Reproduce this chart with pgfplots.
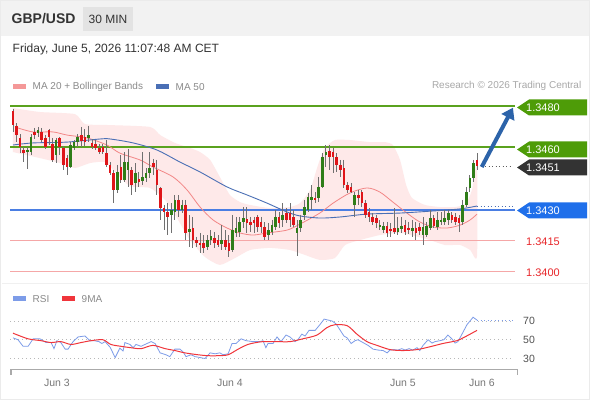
\documentclass[border=0pt]{standalone}
\usepackage{pgfplots}
\pgfplotsset{compat=1.18}
\usepackage{pgfplotstable}
\usetikzlibrary{arrows.meta}
\usepackage{fontspec}
\setmainfont{Liberation Sans}
\definecolor{hdr}{HTML}{F2F2F2}
\definecolor{hbox}{HTML}{E3E3E3}
\definecolor{txt}{HTML}{333333}
\definecolor{leg}{HTML}{8A8A8A}
\definecolor{res}{HTML}{A8A8A8}
\definecolor{lvgreen}{HTML}{5AA21E}
\definecolor{tggreen}{HTML}{4E9C08}
\definecolor{lvblue}{HTML}{4A7EE3}
\definecolor{tgblue}{HTML}{1F6FEA}
\definecolor{tgdark}{HTML}{333333}
\definecolor{lvred}{HTML}{F5A7A7}
\definecolor{txred}{HTML}{E8262A}
\definecolor{cred}{HTML}{DF1519}
\definecolor{cgreen}{HTML}{2F7D18}
\definecolor{wick}{HTML}{707070}
\definecolor{band}{HTML}{FEE9E9}
\definecolor{ma20}{HTML}{F28686}
\definecolor{ma50}{HTML}{4A6FB5}
\definecolor{arr}{HTML}{2C63A9}
\definecolor{rsic}{HTML}{7D9CE8}
\definecolor{mac}{HTML}{F0353B}
\definecolor{gridc}{HTML}{B8B8B8}
\definecolor{axc}{HTML}{AAAAAA}
\definecolor{daytx}{HTML}{777777}
\newcommand{\fs}[1]{\fontsize{#1bp}{#1bp}\selectfont}

% candles: i high low bodytop bodybottom
\pgfplotstableread{
i h l t b
0 1.34786 1.34675 1.34776 1.34708
1 1.34718 1.34626 1.34704 1.34660
2 1.34665 1.34573 1.34646 1.34602
3 1.34602 1.34530 1.34588 1.34573
6 1.34694 1.34641 1.34675 1.34660
8 1.34694 1.34626 1.34675 1.34636
9 1.34660 1.34593 1.34646 1.34602
10 1.34689 1.34612 1.34684 1.34651
11 1.34646 1.34530 1.34617 1.34540
13 1.34651 1.34564 1.34646 1.34602
14 1.34607 1.34492 1.34598 1.34516
15 1.34564 1.34467 1.34549 1.34506
19 1.34699 1.34602 1.34660 1.34631
20 1.34689 1.34607 1.34651 1.34626
22 1.34641 1.34593 1.34622 1.34602
23 1.34636 1.34588 1.34617 1.34598
24 1.34617 1.34569 1.34598 1.34578
25 1.34617 1.34569 1.34602 1.34578
26 1.34636 1.34506 1.34573 1.34516
27 1.34530 1.34467 1.34516 1.34477
28 1.34492 1.34332 1.34477 1.34395
30 1.34564 1.34429 1.34506 1.34443
33 1.34506 1.34371 1.34492 1.34419
35 1.34482 1.34410 1.34448 1.34434
39 1.34545 1.34467 1.34525 1.34506
40 1.34540 1.34371 1.34492 1.34419
41 1.34410 1.34251 1.34405 1.34308
42 1.34323 1.34202 1.34308 1.34289
43 1.34332 1.34178 1.34289 1.34265
46 1.34371 1.34265 1.34347 1.34299
48 1.34347 1.34154 1.34323 1.34188
50 1.34265 1.34116 1.34212 1.34154
51 1.34169 1.34120 1.34154 1.34140
52 1.34188 1.34091 1.34140 1.34130
53 1.34178 1.34091 1.34140 1.34116
56 1.34193 1.34116 1.34164 1.34140
57 1.34178 1.34120 1.34154 1.34130
59 1.34202 1.34106 1.34154 1.34120
60 1.34178 1.34072 1.34140 1.34101
65 1.34313 1.34188 1.34255 1.34236
66 1.34265 1.34193 1.34241 1.34226
67 1.34265 1.34188 1.34251 1.34236
68 1.34275 1.34193 1.34265 1.34217
69 1.34265 1.34188 1.34241 1.34217
70 1.34241 1.34154 1.34217 1.34169
74 1.34289 1.34212 1.34265 1.34236
76 1.34308 1.34236 1.34284 1.34251
77 1.34332 1.34217 1.34284 1.34251
78 1.34299 1.34217 1.34265 1.34226
84 1.34385 1.34332 1.34357 1.34347
88 1.34612 1.34492 1.34583 1.34554
89 1.34598 1.34477 1.34578 1.34554
90 1.34573 1.34482 1.34554 1.34516
91 1.34540 1.34458 1.34516 1.34492
92 1.34540 1.34405 1.34501 1.34419
93 1.34434 1.34381 1.34419 1.34395
94 1.34429 1.34381 1.34410 1.34385
96 1.34395 1.34323 1.34371 1.34357
97 1.34395 1.34313 1.34385 1.34332
98 1.34347 1.34260 1.34332 1.34275
99 1.34308 1.34241 1.34289 1.34265
100 1.34284 1.34226 1.34265 1.34241
101 1.34275 1.34212 1.34260 1.34236
104 1.34241 1.34169 1.34222 1.34188
105 1.34236 1.34169 1.34207 1.34197
106 1.34308 1.34183 1.34212 1.34193
109 1.34251 1.34178 1.34226 1.34193
110 1.34241 1.34183 1.34212 1.34202
112 1.34241 1.34154 1.34212 1.34188
113 1.34236 1.34178 1.34217 1.34197
117 1.34275 1.34212 1.34260 1.34222
122 1.34289 1.34236 1.34275 1.34251
123 1.34284 1.34226 1.34265 1.34241
124 1.34275 1.34193 1.34260 1.34236
129 1.34573 1.34492 1.34540 1.34510
}\redc

\pgfplotstableread{
i h l t b
4 1.34602 1.34496 1.34588 1.34578
5 1.34665 1.34564 1.34651 1.34578
7 1.34699 1.34651 1.34684 1.34670
12 1.34646 1.34525 1.34636 1.34564
16 1.34626 1.34501 1.34612 1.34506
17 1.34636 1.34588 1.34626 1.34598
18 1.34665 1.34602 1.34651 1.34626
21 1.34704 1.34626 1.34660 1.34646
29 1.34516 1.34381 1.34482 1.34395
31 1.34578 1.34434 1.34530 1.34443
32 1.34593 1.34410 1.34530 1.34492
34 1.34525 1.34385 1.34477 1.34429
36 1.34578 1.34419 1.34458 1.34438
37 1.34501 1.34434 1.34477 1.34453
38 1.34578 1.34453 1.34501 1.34477
44 1.34332 1.34188 1.34299 1.34275
45 1.34371 1.34251 1.34347 1.34289
47 1.34347 1.34284 1.34323 1.34299
49 1.34275 1.34120 1.34207 1.34193
54 1.34178 1.34106 1.34154 1.34120
55 1.34202 1.34130 1.34173 1.34154
58 1.34226 1.34106 1.34154 1.34135
61 1.34275 1.34096 1.34202 1.34106
62 1.34265 1.34169 1.34212 1.34188
63 1.34265 1.34169 1.34241 1.34193
64 1.34313 1.34212 1.34260 1.34241
71 1.34236 1.34154 1.34202 1.34178
72 1.34251 1.34178 1.34226 1.34193
73 1.34299 1.34202 1.34265 1.34217
75 1.34332 1.34217 1.34275 1.34251
79 1.34251 1.34077 1.34212 1.34188
80 1.34275 1.34193 1.34251 1.34212
81 1.34347 1.34251 1.34313 1.34275
82 1.34381 1.34289 1.34361 1.34299
83 1.34419 1.34299 1.34361 1.34347
85 1.34458 1.34337 1.34410 1.34357
86 1.34573 1.34405 1.34554 1.34410
87 1.34612 1.34506 1.34578 1.34564
95 1.34385 1.34265 1.34371 1.34323
102 1.34251 1.34202 1.34226 1.34217
103 1.34241 1.34188 1.34222 1.34202
107 1.34265 1.34178 1.34212 1.34193
108 1.34265 1.34188 1.34222 1.34207
111 1.34251 1.34169 1.34212 1.34197
114 1.34265 1.34130 1.34217 1.34178
115 1.34241 1.34169 1.34222 1.34178
116 1.34299 1.34202 1.34260 1.34212
118 1.34289 1.34202 1.34251 1.34217
119 1.34289 1.34226 1.34251 1.34241
120 1.34299 1.34226 1.34260 1.34241
121 1.34299 1.34226 1.34284 1.34251
125 1.34347 1.34226 1.34323 1.34241
126 1.34410 1.34313 1.34385 1.34323
127 1.34467 1.34385 1.34453 1.34405
128 1.34540 1.34434 1.34525 1.34453
}\greenc

\pgfplotsset{candle/.style={draw=none, mark=none, forget plot,
  error bars/.cd, y dir=minus, y explicit, error mark=none}}

\begin{document}
\begin{tikzpicture}
\begin{scope}[x=1bp,y=1bp]
\fill[white] (0,0) rectangle (590,400);
\fill[hdr] (0,364) rectangle (590,400);
\draw[black!8, line width=1bp] (0.5,0.5) rectangle (589.5,399.5);
\draw[black!6, line width=0.8bp] (2,116.5) -- (588,116.5);
% header
\node[anchor=west, inner sep=0pt, text=txt, font=\fs{14}\bfseries] at (11.5,381) {GBP/USD};
\fill[hbox] (83,369) rectangle (133,393);
\node[inner sep=0pt, text=txt, font=\fs{12}] at (108,381) {30 MIN};
\node[anchor=west, inner sep=0pt, text=txt, font=\fs{12}] at (12.5,351) {Friday, June 5, 2026 11:07:48 AM CET};
% legend
\fill[ma20!85] (13,311) rectangle (26,315.5);
\node[anchor=west, inner sep=0pt, text=leg, font=\fs{10}] at (32.5,313.3) {MA 20 + Bollinger Bands};
\fill[ma50] (156,311) rectangle (169,315.5);
\node[anchor=west, inner sep=0pt, text=leg, font=\fs{10}] at (175.5,313.3) {MA 50};
\node[anchor=east, inner sep=0pt, text=res, font=\fs{10}] at (581.5,313.8) {Research \textcopyright{} 2026 Trading Central};
\end{scope}

\begin{axis}[at={(10bp,118bp)}, anchor=south west, scale only axis,
  width=505bp, height=182bp, xmin=-0.834, xmax=139.56,
  ymin=1.339517, ymax=1.348289, hide axis, clip=false]
% Bollinger band: upper band left to right, then lower band right to left
\addplot[fill=band, draw=none, smooth, tension=0.35, forget plot] coordinates {
(0,1.34790) (7.5,1.34771) (17.2,1.34761) (20.0,1.34713) (27.0,1.34708) (38.1,1.34699)
(40.9,1.34660) (45.0,1.34622) (49.2,1.34598) (52.0,1.34578) (54.8,1.34540) (57.5,1.34458)
(60.3,1.34371) (63.1,1.34337) (65.9,1.34323) (71.4,1.34308) (77.0,1.34313) (79.8,1.34332)
(82.6,1.34395) (84.8,1.34516) (86.7,1.34598) (89.5,1.34636) (93.7,1.34636) (99.2,1.34626)
(103.4,1.34626) (105.6,1.34612) (107.6,1.34540) (109.3,1.34419) (110.9,1.34357) (114.5,1.34323)
(118.7,1.34313) (122.9,1.34313) (125.9,1.34328) (127.6,1.34395) (129.0,1.34516)
(129.0,1.34077) (127.1,1.34106) (124.3,1.34130) (120.1,1.34130) (115.9,1.34154) (111.8,1.34173)
(107.6,1.34188) (102.0,1.34178) (96.5,1.34154) (92.3,1.34130) (89.5,1.34067) (85.3,1.34058)
(81.2,1.34082) (77.0,1.34106) (71.4,1.34116) (65.9,1.34106) (61.7,1.34067) (57.5,1.34034)
(53.4,1.34072) (49.2,1.34154) (45.9,1.34251) (42.3,1.34347) (38.1,1.34405) (32.5,1.34414)
(28.4,1.34482) (25.6,1.34530) (21.4,1.34525) (17.2,1.34501) (13.1,1.34525) (7.5,1.34549)
(0,1.34578)} -- cycle;
% level lines
\addplot[lvgreen, line width=2bp, forget plot] coordinates {(-0.834,1.3480) (139.56,1.3480)};
\addplot[lvgreen, line width=2bp, forget plot] coordinates {(-0.834,1.3460) (139.56,1.3460)};
\addplot[lvblue, line width=1.6bp, forget plot] coordinates {(-0.834,1.3430) (139.56,1.3430)};
\addplot[lvred, line width=1bp, forget plot] coordinates {(-0.834,1.3415) (139.56,1.3415)};
\addplot[lvred, line width=1bp, forget plot] coordinates {(-0.834,1.3400) (139.56,1.3400)};
% MA20
\addplot[ma20, line width=0.8bp, smooth, tension=0.5, forget plot] coordinates {
(1.4,1.34694) (5.6,1.34675) (11.1,1.34675) (15.0,1.34660) (20.6,1.34646) (26.1,1.34612)
(29.7,1.34573) (35.3,1.34540) (38.9,1.34506) (44.5,1.34458) (48.4,1.34395) (52.0,1.34313)
(55.6,1.34251) (59.5,1.34212) (63.1,1.34188) (66.7,1.34178) (70.6,1.34188) (76.2,1.34202)
(79.8,1.34231) (85.3,1.34284) (89.0,1.34332) (93.7,1.34381) (98.4,1.34405) (102.0,1.34385)
(105.6,1.34337) (109.5,1.34284) (113.1,1.34241) (116.8,1.34217) (120.7,1.34212) (124.3,1.34226)
(127.1,1.34251) (129.0,1.34279)};
% MA50
\addplot[ma50, line width=0.9bp, smooth, tension=0.5, forget plot] coordinates {
(0,1.34612) (5.6,1.34622) (15.0,1.34626) (24.2,1.34641) (27.0,1.34641) (33.4,1.34622)
(40.0,1.34588) (46.4,1.34530) (52.0,1.34482) (59.5,1.34410) (65.1,1.34371) (70.6,1.34332)
(76.2,1.34289) (79.8,1.34270) (85.3,1.34260) (90.9,1.34265) (98.4,1.34279) (107.6,1.34284)
(116.8,1.34294) (124.3,1.34304) (129.0,1.34318)};
\addplot[ma50, line width=0.9bp, dash pattern=on 1bp off 2.5bp, forget plot] coordinates {(129.0,1.34318) (139.0,1.34318)};
\addplot[tgdark!80, line width=0.9bp, dash pattern=on 1bp off 2.5bp, forget plot] coordinates {(130.3,1.3451) (139.0,1.3451)};
% wicks
\addplot[candle, error bar style={draw=wick, line width=0.9bp}]
  table[x=i, y=h, y error minus expr=\thisrow{h}-\thisrow{l}] {\redc};
\addplot[candle, error bar style={draw=wick, line width=0.9bp}]
  table[x=i, y=h, y error minus expr=\thisrow{h}-\thisrow{l}] {\greenc};
% bodies
\addplot[candle, error bar style={draw=cred, line width=2.6bp}]
  table[x=i, y=t, y error minus expr=\thisrow{t}-\thisrow{b}] {\redc};
\addplot[candle, error bar style={draw=cgreen, line width=2.6bp}]
  table[x=i, y=t, y error minus expr=\thisrow{t}-\thisrow{b}] {\greenc};
% arrow
\draw[arr, line width=4bp, -{Triangle[length=11bp,width=14bp]}] (axis cs:130.3,1.34506) -- (axis cs:139.0,1.34792);
\end{axis}

\begin{axis}[at={(10bp,32bp)}, anchor=south west, scale only axis,
  width=505bp, height=58bp, xmin=-0.834, xmax=139.56,
  ymin=19.87, ymax=81.73, hide axis, clip=false]
\addplot[gridc, line width=0.9bp, dash pattern=on 1bp off 3bp, forget plot] coordinates {(-0.834,70) (139.0,70)};
\addplot[gridc, line width=0.9bp, dash pattern=on 1bp off 3bp, forget plot] coordinates {(-0.834,50) (139.0,50)};
\addplot[gridc, line width=0.9bp, dash pattern=on 1bp off 3bp, forget plot] coordinates {(-0.834,30) (139.0,30)};
% RSI
\addplot[rsic, line width=0.8bp, forget plot] coordinates {
(0,52) (1.4,50) (2.8,43) (4.2,43) (5.6,51) (7.5,51) (9.2,47) (10.6,47) (11.4,40.5) (12.2,49)
(13.3,47) (14.5,40) (15.3,40) (16.7,48) (18.1,53) (20.0,54) (21.4,49) (22.5,49) (23.9,48)
(24.7,46) (25.6,48) (27.0,42) (28.4,31) (29.7,41) (30.6,38) (31.1,47) (32.5,45) (33.4,41.5)
(34.2,45) (35.6,43) (36.7,45) (38.4,48) (39.5,46) (40.9,36) (42.5,34) (43.6,32) (45.0,40)
(46.4,40) (47.3,37) (48.1,32) (49.5,34) (50.6,32) (52.0,31) (53.4,30) (54.8,36) (56.2,35)
(57.5,36) (58.4,34) (59.8,35) (60.9,46) (62.0,46) (63.4,51) (64.8,49) (66.7,48) (68.7,48)
(69.5,49) (70.3,41.5) (70.9,46) (72.3,46) (73.4,53) (74.5,48) (75.9,55) (77.0,53) (78.4,48)
(79.2,50) (80.3,56) (81.2,54) (82.3,60) (84.0,60) (85.3,66) (86.5,72) (87.6,71) (88.7,70)
(89.8,67) (90.9,60.5) (92.0,54) (92.9,52) (94.0,46) (95.1,49) (95.9,50) (97.3,47) (98.7,44)
(100.1,40) (101.5,39) (102.9,38.5) (104.0,36) (104.8,39) (105.9,39.5) (107.0,39) (108.1,40.5)
(109.0,39) (110.1,40.5) (111.2,39) (112.3,41.5) (113.1,38.5) (114.0,44) (115.4,50) (116.5,46.5)
(117.3,48) (118.7,49) (119.8,50) (120.9,55) (122.0,51) (122.9,46.5) (123.7,48) (125.1,58)
(126.2,66) (127.9,74) (129.0,71)};
\addplot[rsic, line width=0.9bp, dash pattern=on 1bp off 2.5bp, forget plot] coordinates {(129.0,71) (139.0,71)};
% 9MA
\addplot[mac, line width=1bp, smooth, tension=0.5, forget plot] coordinates {
(0,57) (4.2,51) (7.8,49) (10.6,47) (13.3,48) (16.1,45) (18.9,47) (21.7,49) (25.0,50) (27.2,45)
(30.0,43) (32.8,41.5) (35.6,40.5) (38.9,44) (42.3,40.5) (45.0,38.5) (47.8,36) (51.4,34)
(54.2,33) (57.0,33) (59.8,34) (62.6,40) (65.3,45) (67.6,47) (69.5,48) (73.4,48) (77.0,48)
(80.6,51) (84.5,55) (87.3,63) (89.5,66) (92.9,65) (95.6,56) (98.4,48) (101.2,44) (104.8,39.5)
(108.4,38.5) (112.3,39.5) (115.9,42.5) (119.5,46) (123.4,49) (125.1,52) (127.1,56) (129.0,60)};
\end{axis}

\begin{scope}[x=1bp,y=1bp]
% tags
\fill[tggreen] (517,292.5) -- (529,300.5) -- (587,300.5) -- (587,284.5) -- (529,284.5) -- cycle;
\node[anchor=west, inner sep=0pt, text=white, font=\fs{11}] at (526,292.5) {1.3480};
\fill[tggreen] (517,250.5) -- (529,258.5) -- (587,258.5) -- (587,242.5) -- (529,242.5) -- cycle;
\node[anchor=west, inner sep=0pt, text=white, font=\fs{11}] at (526,250.5) {1.3460};
\fill[tgdark] (517,232.5) -- (529,240.5) -- (587,240.5) -- (587,224.5) -- (529,224.5) -- cycle;
\node[anchor=west, inner sep=0pt, text=white, font=\fs{11}] at (526,232.5) {1.3451};
\fill[tgblue] (517,189.5) -- (529,197.5) -- (587,197.5) -- (587,181.5) -- (529,181.5) -- cycle;
\node[anchor=west, inner sep=0pt, text=white, font=\fs{11}] at (526,189.5) {1.3430};
\node[anchor=west, inner sep=0pt, text=txred, font=\fs{11}] at (526,158.5) {1.3415};
\node[anchor=west, inner sep=0pt, text=txred, font=\fs{11}] at (526,127.5) {1.3400};
% RSI legend
\fill[rsic] (13,99) rectangle (26,103.5);
\node[anchor=west, inner sep=0pt, text=leg, font=\fs{10}] at (32.5,101.3) {RSI};
\fill[mac] (62,99) rectangle (75,103.5);
\node[anchor=west, inner sep=0pt, text=leg, font=\fs{10}] at (81.5,101.3) {9MA};
\node[anchor=west, inner sep=0pt, text=txt!85, font=\fs{10.5}] at (523,79) {70};
\node[anchor=west, inner sep=0pt, text=txt!85, font=\fs{10.5}] at (523,60) {50};
\node[anchor=west, inner sep=0pt, text=txt!85, font=\fs{10.5}] at (523,41.5) {30};
% bottom axis
\draw[axc, line width=1.3bp] (11,25) -- (11,30.5) -- (517.5,30.5) -- (517.5,25);
\node[inner sep=0pt, text=daytx, font=\fs{10.5}] at (57,17) {Jun 3};
\node[inner sep=0pt, text=daytx, font=\fs{10.5}] at (230,17) {Jun 4};
\node[inner sep=0pt, text=daytx, font=\fs{10.5}] at (403,17) {Jun 5};
\node[inner sep=0pt, text=daytx, font=\fs{10.5}] at (482,17) {Jun 6};
\end{scope}
\pgfresetboundingbox
\useasboundingbox (0bp,0bp) rectangle (590bp,400bp);
\end{tikzpicture}
\end{document}
